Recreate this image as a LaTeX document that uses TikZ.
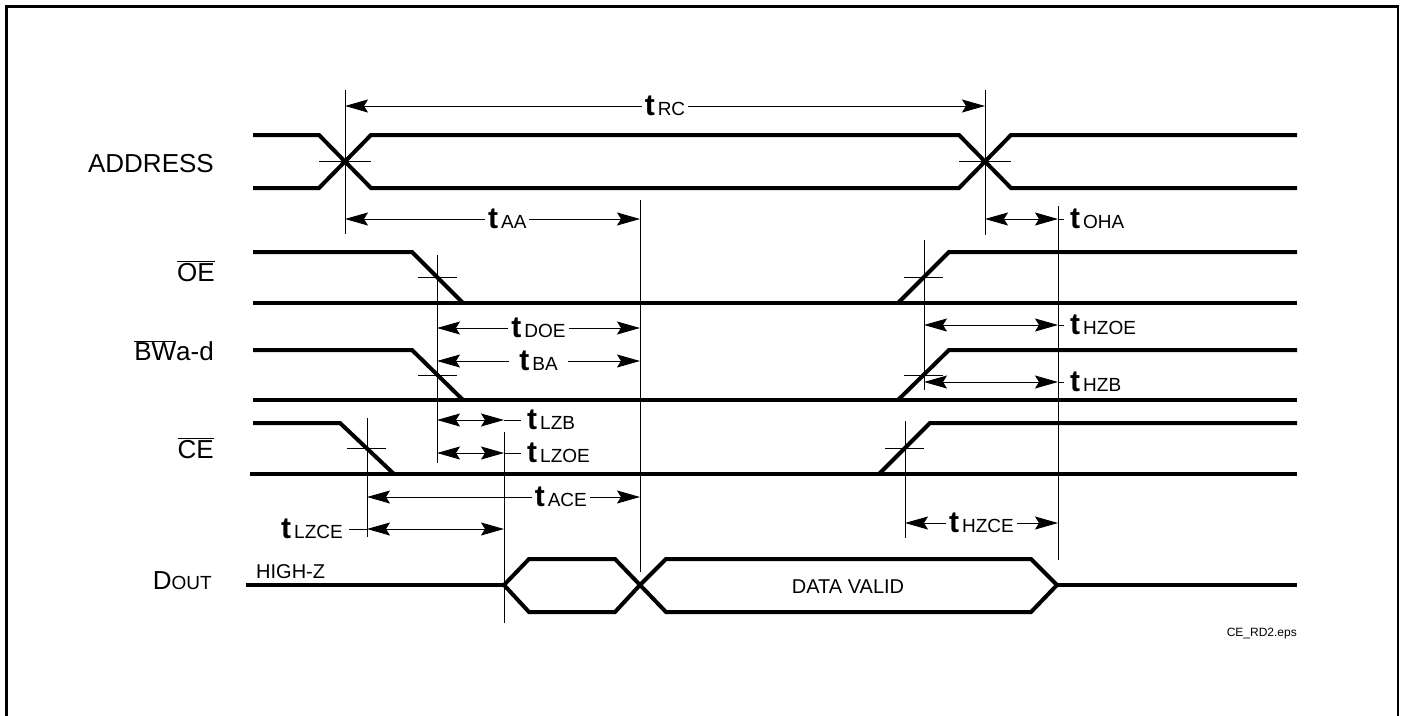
\documentclass[tikz,border=0pt]{standalone}
\usepackage{fontspec}
\setmainfont{Liberation Sans}
\usetikzlibrary{arrows.meta,calc}

\newcommand{\tname}[1]{{\fontsize{30}{32}\selectfont\bfseries t}\kern3pt{\fontsize{19}{21}\selectfont #1}}
\newcommand{\ovl}[1]{$\overline{\hbox{#1}}$}

\tikzset{
  signal/.style={line width=4pt, line join=miter},
  guide/.style={line width=0.9pt},
  span/.style={line width=0.9pt,
    {Stealth[length=23pt,width=13pt,inset=4pt]}-{Stealth[length=23pt,width=13pt,inset=4pt]}},
  tlabel/.style={fill=white, inner sep=3pt},
  sidelabel/.style={inner sep=0pt},
  signame/.style={anchor=base east, inner sep=0pt, font=\fontsize{26}{28}\selectfont},
}

\begin{document}
\begin{tikzpicture}[x=1pt, y=-1pt]
    \useasboundingbox (0,0) rectangle (1403,715);
    % frame
    \draw[line width=2.5pt] (6.5,716) -- (6.5,6.5) -- (1398,6.5) -- (1398,716);

    % Signal names
    \node[signame] (addr) at (214,172) {ADDRESS};
    \node[signame] (oe) at (215,281) {\ovl{OE}};
    \node[signame] (bw) at (214,360) {\ovl{BW}a-d};
    \node[signame] (ce) at (214,458) {\ovl{CE}};
    \node[signame] (dout) at (212,589) {D{\fontsize{19}{20}\selectfont OUT}};

    % Waveforms
    \draw[signal] (253,135) -- (319,135) -- (371,188) -- (959,188) -- (1011,135) -- (1297,135);
    \draw[signal] (253,188) -- (319,188) -- (371,135) -- (959,135) -- (1011,188) -- (1297,188);

    \draw[signal] (253,303) -- (1297,303);
    \draw[signal] (253,252) -- (412,252) -- (463,303);
    \draw[signal] (898,303) -- (949,252) -- (1297,252);

    \draw[signal] (253,400) -- (1297,400);
    \draw[signal] (253,350) -- (412,350) -- (463,400);
    \draw[signal] (898,400) -- (949,350) -- (1297,350);

    \draw[signal] (250,474) -- (1297,474);
    \draw[signal] (253,423) -- (340,423) -- (394,474);
    \draw[signal] (879,474) -- (930,423) -- (1297,423);

    \draw[signal] (246,585) -- (504,585);
    \draw[signal] (504,585) -- (529,559) -- (615,559) -- (640,585) -- (615,612) -- (529,612) -- cycle;
    \draw[signal] (640,585) -- (666,559) -- (1031,559) -- (1057,585) -- (1031,612) -- (666,612) -- cycle;
    \draw[signal] (1057,585) -- (1297,585);

    \node[anchor=base west, inner sep=0pt, font=\fontsize{20}{22}\selectfont] (hiz) at (256,578) {HIGH-Z};
    \node[anchor=base, inner sep=0pt, font=\fontsize{20}{22}\selectfont] (valid) at (848,593) {DATA VALID};
    \node[anchor=base east, inner sep=0pt, font=\fontsize{12}{14}\selectfont] (fname) at (1297,636) {CE\_RD2.eps};

    % Reference lines
    \draw[guide] (345,90) -- (345,234);
    \draw[guide] (985,90) -- (985,235);
    \draw[guide] (640,200) -- (640,572);
    \draw[guide] (1058,206) -- (1058,560);
    \draw[guide] (437,255) -- (437,463);
    \draw[guide] (924,240) -- (924,390);
    \draw[guide] (367,418) -- (367,537);
    \draw[guide] (905,421) -- (905,538);
    \draw[guide] (504,432) -- (504,623);

    % Threshold ticks
    \draw[guide] (319,161.5) -- (371,161.5);
    \draw[guide] (959,161.5) -- (1011,161.5);
    \draw[guide] (418,277) -- (457,277);
    \draw[guide] (418,375) -- (457,375);
    \draw[guide] (904,277) -- (943,277);
    \draw[guide] (904,375) -- (943,375);
    \draw[guide] (347,448) -- (386,448);
    \draw[guide] (885,448) -- (924,448);

    % Timing spans
    \coordinate (rcL) at (345,106);   \coordinate (rcR) at (985,106);
    \coordinate (aaL) at (345,219);   \coordinate (aaR) at (640,219);
    \coordinate (ohaL) at (985,219);  \coordinate (ohaR) at (1058,219);
    \coordinate (doeL) at (437,328);  \coordinate (doeR) at (640,328);
    \coordinate (hzoeL) at (924,325); \coordinate (hzoeR) at (1058,325);
    \coordinate (baL) at (437,361);   \coordinate (baR) at (640,361);
    \coordinate (hzbL) at (924,382);  \coordinate (hzbR) at (1058,382);
    \coordinate (lzbL) at (437,420);  \coordinate (lzbR) at (504,420);
    \coordinate (lzoeL) at (437,453); \coordinate (lzoeR) at (504,453);
    \coordinate (aceL) at (367,497);  \coordinate (aceR) at (640,497);
    \coordinate (lzceL) at (367,529); \coordinate (lzceR) at (504,529);
    \coordinate (hzceL) at (905,523); \coordinate (hzceR) at (1058,523);

    \draw[span] (rcL) -- node[tlabel] (trc) {\tname{RC}} (rcR);
    \draw[span] (aaL) -- node[tlabel, pos=0.55] (taa) {\tname{AA}} (aaR);
    \draw[span] (doeL) -- node[tlabel] (tdoe) {\tname{DOE}} (doeR);
    \draw[span] (baL) -- node[tlabel, inner xsep=10pt] (tba) {\tname{BA}} (baR);
    \draw[span] (aceL) -- node[tlabel, pos=0.71] (tace) {\tname{ACE}} (aceR);
    \draw[span] (hzceL) -- node[tlabel] (thzce) {\tname{HZCE}} (hzceR);

    \draw[span] (ohaL) -- (ohaR);
    \node[sidelabel, anchor=west] (toha) at (1070,219) {\tname{OHA}};
    \draw[guide] (ohaR) -- ($(toha.west)+(-6,0)$);
    \draw[span] (hzoeL) -- (hzoeR);
    \node[sidelabel, anchor=west] (thzoe) at (1070,325) {\tname{HZOE}};
    \draw[guide] (hzoeR) -- ($(thzoe.west)+(-6,0)$);
    \draw[span] (hzbL) -- (hzbR);
    \node[sidelabel, anchor=west] (thzb) at (1070,382) {\tname{HZB}};
    \draw[guide] (hzbR) -- ($(thzb.west)+(-6,0)$);
    \draw[span] (lzbL) -- (lzbR);
    \node[sidelabel, anchor=west] (tlzb) at (527,420) {\tname{LZB}};
    \draw[guide] (lzbR) -- ($(tlzb.west)+(-6,0)$);
    \draw[span] (lzoeL) -- (lzoeR);
    \node[sidelabel, anchor=west] (tlzoe) at (527,453) {\tname{LZOE}};
    \draw[guide] (lzoeR) -- ($(tlzoe.west)+(-6,0)$);
    \draw[span] (lzceL) -- (lzceR);
    \node[sidelabel, anchor=east] (tlzce) at (343,529) {\tname{LZCE}};
    \draw[guide] (lzceL) -- ($(tlzce.east)+(6,0)$);
\end{tikzpicture}
\end{document}
